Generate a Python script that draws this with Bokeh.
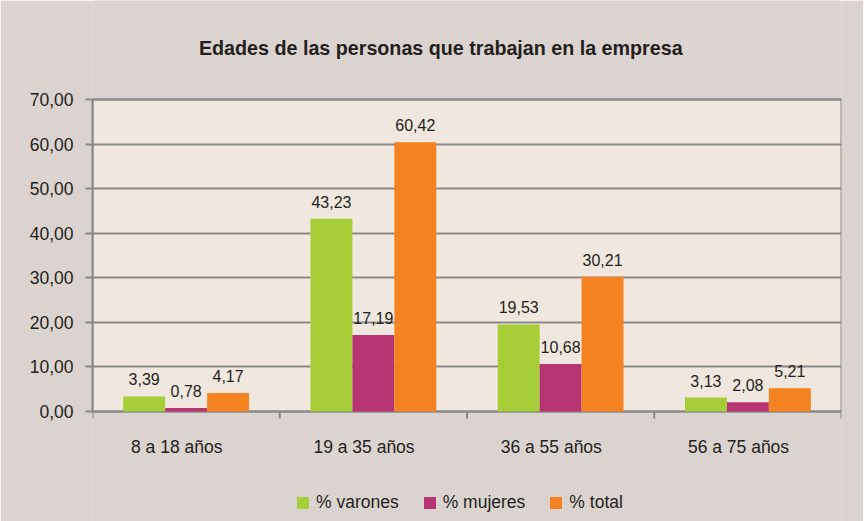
from bokeh.plotting import figure
from bokeh.models import (ColumnDataSource, FixedTicker, Legend, LegendItem, Range1d,
                          LabelSet, Label)
from bokeh.core.properties import value
from bokeh.embed import file_html
from bokeh.resources import INLINE

title_text = "Edades de las personas que trabajan en la empresa"
categories = ["8 a 18 años", "19 a 35 años", "36 a 55 años", "56 a 75 años"]
varones = [3.39, 43.23, 19.53, 3.13]
mujeres = [0.78, 17.19, 10.68, 2.08]
total = [4.17, 60.42, 30.21, 5.21]
series_names = ["% varones", "% mujeres", "% total"]
colors = ["#a6ce39", "#b83573", "#f58220"]
y_ticks = [0, 10, 20, 30, 40, 50, 60, 70]

FONT = "Liberation Sans"
TXT = "#231f20"
GRID = "#898989"
OUTER = "#dbd3cf"
INNER = "#f0e7de"

# layout in pixels
H = 521
TOP_PX, PLOT_PX = 99, 312
YMAX = y_ticks[-1]
upp = YMAX / PLOT_PX                      # data units per pixel
y_hi = YMAX + TOP_PX * upp
y_lo = -(H - TOP_PX - PLOT_PX) * upp
ncat = len(categories)

p = figure(frame_width=749, frame_height=H, output_backend="svg", toolbar_location=None,
           x_range=Range1d(0, ncat), y_range=Range1d(y_lo, y_hi),
           min_border_left=92, min_border_right=22, min_border_top=0, min_border_bottom=0)
p.background_fill_color = OUTER
p.border_fill_color = OUTER
p.outline_line_color = None

# plot area background + border
p.quad(left=[0], right=[ncat], bottom=[0], top=[YMAX], fill_color=INNER,
       line_color=GRID, line_width=2, level="image")

bw = 0.224
offsets = [-bw, 0.0, bw]
items = []
for vals, name, col, off in zip([varones, mujeres, total], series_names, colors, offsets):
    src = ColumnDataSource(dict(
        x=[i + 0.5 + off for i in range(ncat)],
        top=vals,
        lab=[f"{v:.2f}".replace(".", ",") for v in vals],
    ))
    r = p.vbar(x="x", top="top", width=bw, source=src, fill_color=col, line_color=None)
    items.append(LegendItem(label=name, renderers=[r]))
    p.add_layout(LabelSet(x="x", y="top", text="lab", source=src, text_align="center",
                          text_baseline="bottom", y_offset=11, text_font=value(FONT),
                          text_font_size="16px", text_color=TXT))

# x axis drawn by hand: tick marks at category boundaries, labels under each group
bounds_x = list(range(ncat + 1))
p.segment(x0=bounds_x, y0=[0] * len(bounds_x), x1=bounds_x, y1=[-7 * upp] * len(bounds_x),
          line_color=GRID, line_width=2)
xsrc = ColumnDataSource(dict(x=[i + 0.45 for i in range(ncat)], y=[0] * ncat, lab=categories))
p.add_layout(LabelSet(x="x", y="y", text="lab", source=xsrc, text_align="center",
                      text_baseline="middle", y_offset=-35, text_font=value(FONT),
                      text_font_size="17.5px", text_color=TXT))
p.xaxis.visible = False

# title
p.add_layout(Label(x=1.86, y=YMAX, y_offset=52, text=title_text, text_align="center",
                   text_baseline="middle", text_font=FONT, text_font_size="19.7px",
                   text_font_style="bold", text_color=TXT))

# y axis
p.yaxis.bounds = (0, YMAX)
p.yaxis.ticker = FixedTicker(ticks=y_ticks, minor_ticks=[])
p.yaxis.major_label_overrides = {t: f"{t:.2f}".replace(".", ",") for t in y_ticks}
p.yaxis.major_tick_out = 7
p.yaxis.major_tick_in = 0
p.yaxis.major_tick_line_color = GRID
p.yaxis.major_tick_line_width = 2
p.yaxis.major_label_standoff = 12
p.yaxis.axis_line_color = GRID
p.yaxis.axis_line_width = 2
p.yaxis.major_label_text_font = FONT
p.yaxis.major_label_text_font_size = "17.5px"
p.yaxis.major_label_text_color = TXT

p.xgrid.grid_line_color = None
p.ygrid.grid_line_color = GRID
p.ygrid.grid_line_width = 2
p.ygrid.ticker = FixedTicker(ticks=y_ticks)

legend = Legend(items=items, orientation="horizontal", location=(203, 8),
                label_text_font=FONT, label_text_font_size="17.5px", label_text_color=TXT,
                glyph_width=15, glyph_height=15, label_height=15, spacing=23, label_standoff=6,
                background_fill_alpha=0, border_line_alpha=0, margin=0, padding=0)
p.add_layout(legend)

open("out.html", "w").write(file_html(p, INLINE))
